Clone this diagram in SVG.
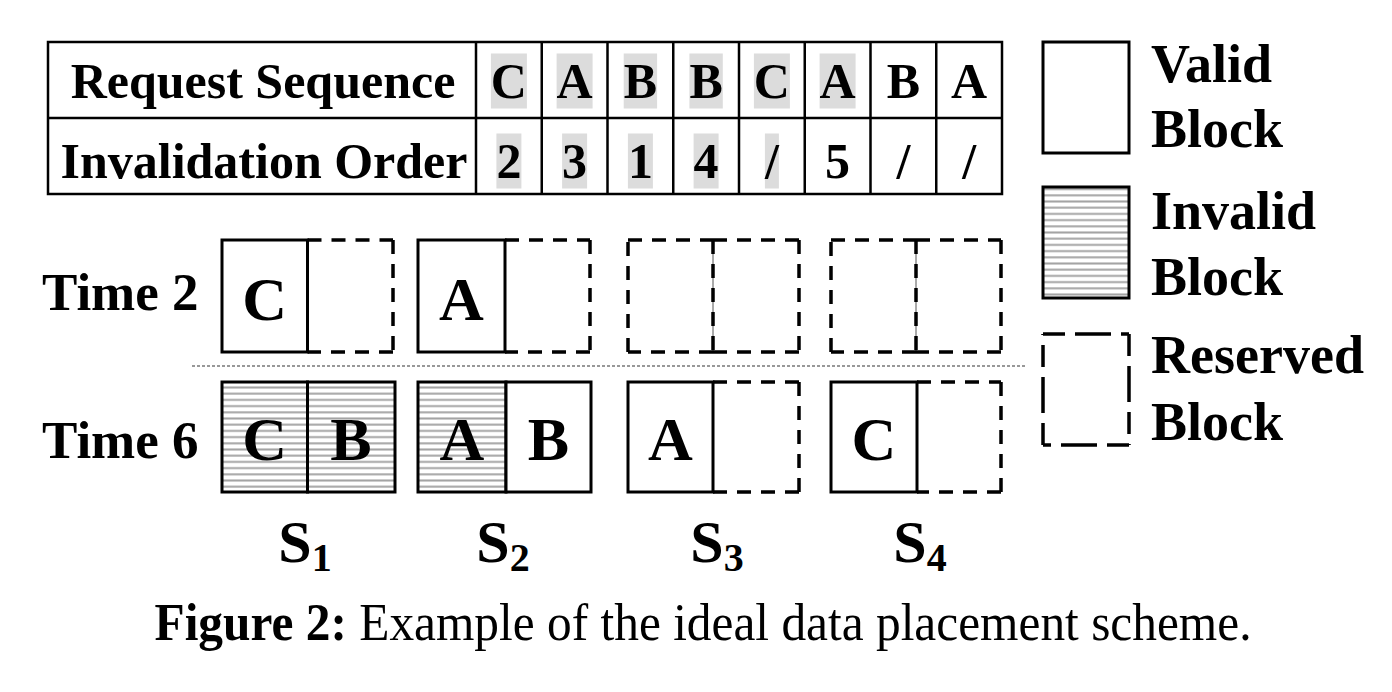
<svg xmlns="http://www.w3.org/2000/svg" width="1392" height="692" viewBox="0 0 1392 692">
<style>
.grid{fill:none;stroke:#000;stroke-width:2.5}
.hl{fill:#dcdcdc}
.tb{font-family:"Liberation Serif","Times New Roman",serif;font-weight:bold;font-size:50px;text-anchor:middle;fill:#000}
.lbl{font-family:"Liberation Serif","Times New Roman",serif;font-weight:bold;fill:#000}
.valid{fill:#fff;stroke:#000;stroke-width:3}
.invalid{fill:url(#hatch);stroke:#000;stroke-width:3}
.res{fill:none;stroke:#000;stroke-width:3.5;stroke-dasharray:14 10}
.thin{stroke:#555;stroke-width:1}
.blk{font-family:"Liberation Serif","Times New Roman",serif;font-weight:bold;font-size:62px;text-anchor:middle;fill:#000}
</style>
<defs>
<pattern id="hatch" patternUnits="userSpaceOnUse" x="0" y="0" width="10" height="6.2">
<rect width="10" height="6.2" fill="#fff"/>
<line x1="0" y1="3.1" x2="10" y2="3.1" stroke="#a4a4a4" stroke-width="2"/>
</pattern>
</defs>
<rect width="1392" height="692" fill="#fff"/>

<g id="table">
<rect class="hl" x="490.9" y="53.5" width="36" height="55"/>
<rect class="hl" x="556.6" y="53.5" width="36" height="55"/>
<rect class="hl" x="623.7" y="53.5" width="33.4" height="55"/>
<rect class="hl" x="689.4" y="53.5" width="33.4" height="55"/>
<rect class="hl" x="753.9" y="53.5" width="36" height="55"/>
<rect class="hl" x="819.6" y="53.5" width="36" height="55"/>
<rect class="hl" x="496.4" y="133.5" width="25" height="55"/>
<rect class="hl" x="562.1" y="133.5" width="25" height="55"/>
<rect class="hl" x="627.9" y="133.5" width="25" height="55"/>
<rect class="hl" x="693.6" y="133.5" width="25" height="55"/>
<rect class="hl" x="764.9" y="133.5" width="14" height="55"/>
<rect class="grid" x="48" y="42" width="954" height="152"/>
<path class="grid" d="M48 118H1002M476 42V194M541.75 42V194M607.5 42V194M673.25 42V194M739 42V194M804.75 42V194M870.5 42V194M936.25 42V194"/>
<text class="tb" x="263" y="98">Request Sequence</text>
<text class="tb" x="264" y="178">Invalidation Order</text>
<text class="tb" x="508.9" y="98">C</text>
<text class="tb" x="574.6" y="98">A</text>
<text class="tb" x="640.4" y="98">B</text>
<text class="tb" x="706.1" y="98">B</text>
<text class="tb" x="771.9" y="98">C</text>
<text class="tb" x="837.6" y="98">A</text>
<text class="tb" x="903.4" y="98">B</text>
<text class="tb" x="969.1" y="98">A</text>
<text class="tb" x="508.9" y="178">2</text>
<text class="tb" x="574.6" y="178">3</text>
<text class="tb" x="640.4" y="178">1</text>
<text class="tb" x="706.1" y="178">4</text>
<text class="tb" x="771.9" y="178">/</text>
<text class="tb" x="837.6" y="178">5</text>
<text class="tb" x="903.4" y="178">/</text>
<text class="tb" x="969.1" y="178">/</text>
</g>

<g id="legend-valid">
<rect class="valid" x="1043" y="42" width="86" height="111"/>
<text class="lbl" x="1151" y="82" font-size="54">Valid</text>
<text class="lbl" x="1151" y="147" font-size="54">Block</text>
</g>
<g id="legend-invalid">
<rect class="invalid" x="1043" y="187" width="86" height="111"/>
<text class="lbl" x="1151" y="229" font-size="54">Invalid</text>
<text class="lbl" x="1151" y="295" font-size="54">Block</text>
</g>
<g id="legend-reserved">
<path fill="none" stroke="#000" stroke-width="3.5" stroke-dasharray="22 10 36 10" d="M1043 334H1129M1129 334V445M1129 445H1043M1043 445V334"/>
<text class="lbl" x="1151" y="373" font-size="54">Reserved</text>
<text class="lbl" x="1151" y="440" font-size="54">Block</text>
</g>

<g id="time-labels">
<text class="lbl" x="42" y="310" font-size="53">Time 2</text>
<text class="lbl" x="42" y="458" font-size="53">Time 6</text>
</g>

<g id="separator">
<line x1="192" y1="366" x2="1025" y2="366" stroke="#333" stroke-width="1.2" stroke-dasharray="3 2"/>
</g>

<g id="t2-s1">
<path class="res" d="M307.5 240H393M393 240V352M393 352H307.5"/>
<rect class="valid" x="222" y="240" width="85.5" height="112"/>
<text class="blk" x="264.75" y="320">C</text>
</g>
<g id="t2-s2">
<path class="res" d="M505 240H590M590 240V352M590 352H505"/>
<rect class="valid" x="418" y="240" width="87" height="112"/>
<text class="blk" x="461.5" y="320">A</text>
</g>
<g id="t2-s3">
<line class="thin" x1="713" y1="240" x2="713" y2="352"/>
<path class="res" d="M628 240H713M713 240V352M713 352H628M628 352V240M713 240H799M799 240V352M799 352H713"/>
</g>
<g id="t2-s4">
<line class="thin" x1="916" y1="240" x2="916" y2="352"/>
<path class="res" d="M831 240H916M916 240V352M916 352H831M831 352V240M916 240H1001M1001 240V352M1001 352H916"/>
</g>

<g id="t6-s1">
<rect class="invalid" x="222" y="382" width="85.5" height="110"/>
<rect class="invalid" x="307.5" y="382" width="87.5" height="110"/>
<text class="blk" x="264.75" y="460">C</text>
<text class="blk" x="351" y="460">B</text>
</g>
<g id="t6-s2">
<rect class="invalid" x="418" y="382" width="88" height="110"/>
<rect class="valid" x="506" y="382" width="85" height="110"/>
<text class="blk" x="462" y="460">A</text>
<text class="blk" x="548.5" y="460">B</text>
</g>
<g id="t6-s3">
<path class="res" d="M713 382H799M799 382V492M799 492H713"/>
<rect class="valid" x="628" y="382" width="85" height="110"/>
<text class="blk" x="670.5" y="460">A</text>
</g>
<g id="t6-s4">
<path class="res" d="M917 382H1001M1001 382V492M1001 492H917"/>
<rect class="valid" x="831" y="382" width="86" height="110"/>
<text class="blk" x="874" y="460">C</text>
</g>

<g id="server-labels">
<text class="lbl" x="305" y="562" font-size="60" text-anchor="middle">S<tspan font-size="40" dy="9">1</tspan></text>
<text class="lbl" x="503" y="562" font-size="60" text-anchor="middle">S<tspan font-size="40" dy="9">2</tspan></text>
<text class="lbl" x="717" y="562" font-size="60" text-anchor="middle">S<tspan font-size="40" dy="9">3</tspan></text>
<text class="lbl" x="920" y="562" font-size="60" text-anchor="middle">S<tspan font-size="40" dy="9">4</tspan></text>
</g>

<g id="caption">
<text x="703" y="640" font-family="'Liberation Serif','Times New Roman',serif" font-size="52" text-anchor="middle" fill="#000" textLength="1097" lengthAdjust="spacingAndGlyphs"><tspan font-weight="bold">Figure 2:</tspan> Example of the ideal data placement scheme.</text>
</g>
</svg>
